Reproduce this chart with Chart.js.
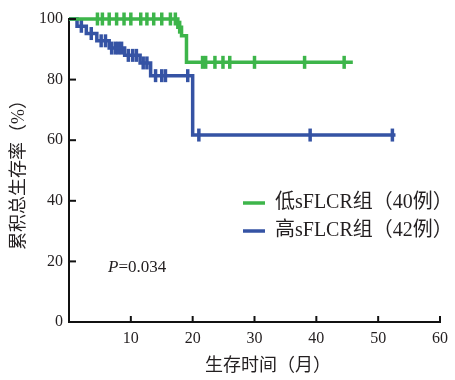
<!DOCTYPE html>
<html>
<head>
<meta charset="utf-8">
<script src="https://cdn.jsdelivr.net/npm/chart.js@4"></script>
<style>
  html, body { margin: 0; padding: 0; background: #fff; }
  #wrap { width: 455px; height: 380px; position: relative; }
</style>
</head>
<body>
<div id="wrap"><canvas id="km"></canvas></div>
<script>
// low sFLCR group (40 cases): step curve + censored marks
const lowTimes = [0, 17.6, 18.2, 19.0, 45.9];
const lowSurv = [100, 97.3, 94.5, 85.7, 85.7];
const lowCensorTimes = [4.6, 5.4, 6.5, 7.7, 8.9, 10.0, 11.6, 12.6, 13.7, 15.0, 16.4, 17.2, 17.9,
  21.6, 22.1, 23.6, 24.9, 26.0, 30.0, 38.1, 44.5];
const lowCensorSurv = [100, 100, 100, 100, 100, 100, 100, 100, 100, 100, 100, 100, 97.3,
  85.7, 85.7, 85.7, 85.7, 85.7, 85.7, 85.7, 85.7];

// high sFLCR group (42 cases)
const highTimes = [0, 1.3, 2.8, 4.5, 6.5, 9.0, 11.5, 13.2, 20.0, 52.8];
const highSurv = [100, 97.6, 95.2, 92.8, 90.4, 88.0, 85.5, 81.3, 61.7, 61.7];
const highCensorTimes = [2.0, 3.6, 5.2, 5.9, 6.9, 7.5, 8.0, 8.5, 9.6, 10.3, 10.9, 12.0, 12.6,
  14.0, 15.0, 15.6, 19.2, 21.0, 39.0, 52.3];
const highCensorSurv = [97.6, 95.2, 92.8, 92.8, 90.4, 90.4, 90.4, 90.4, 88.0, 88.0, 88.0, 85.5, 85.5,
  81.3, 81.3, 81.3, 81.3, 61.7, 61.7, 61.7];

const xTicks = [10, 20, 30, 40, 50, 60];
const yTicks = [0, 20, 40, 60, 80, 100];
const groupLabels = ['低sFLCR组（40例）', '高sFLCR组（42例）'];
const xTitle = '生存时间（月）';
const pText = '=0.034';

const GREEN = '#3db54a';
const BLUE = '#3553a4';
const TEXT = '#231f20';
const SERIF = "'Liberation Serif', 'Noto Sans CJK SC', serif";

const toPoints = (xs, ys) => xs.map((x, i) => ({ x: x, y: ys[i] }));

// inward tick marks, legend, x title and P value
const extrasPlugin = {
  id: 'extras',
  afterDraw(chart) {
    const ctx = chart.ctx;
    const xs = chart.scales.x;
    const ys = chart.scales.y;
    const area = chart.chartArea;
    ctx.save();
    ctx.strokeStyle = '#111';
    ctx.lineWidth = 2;
    xTicks.forEach(v => {
      const px = xs.getPixelForValue(v);
      ctx.beginPath();
      ctx.moveTo(px, area.bottom);
      ctx.lineTo(px, area.bottom - 6);
      ctx.stroke();
    });
    yTicks.slice(1).forEach(v => {
      const py = ys.getPixelForValue(v);
      ctx.beginPath();
      ctx.moveTo(area.left, py);
      ctx.lineTo(area.left + 7, py);
      ctx.stroke();
    });

    // legend
    const colors = [GREEN, BLUE];
    const legY = [203, 231];
    ctx.font = '20px ' + SERIF;
    ctx.textBaseline = 'middle';
    ctx.textAlign = 'left';
    groupLabels.forEach((label, i) => {
      ctx.strokeStyle = colors[i];
      ctx.lineWidth = 3.5;
      ctx.beginPath();
      ctx.moveTo(243, legY[i]);
      ctx.lineTo(265, legY[i]);
      ctx.stroke();
      ctx.fillStyle = TEXT;
      ctx.fillText(label, 275, legY[i]);
    });

    // x axis title
    ctx.font = '18px ' + SERIF;
    ctx.textAlign = 'center';
    ctx.fillText(xTitle, 268, 366);

    // P value
    ctx.textAlign = 'left';
    ctx.font = 'italic 17px ' + SERIF;
    ctx.fillText('P', 108, 268);
    const w = ctx.measureText('P').width;
    ctx.font = '17px ' + SERIF;
    ctx.fillText(pText, 108 + w, 268);
    ctx.restore();
  }
};

const ctx = document.getElementById('km').getContext('2d');
new Chart(ctx, {
  type: 'scatter',
  data: {
    datasets: [
      {
        label: groupLabels[0],
        data: toPoints(lowTimes, lowSurv),
        showLine: true,
        stepped: 'before',
        borderColor: GREEN,
        borderWidth: 3.5,
        pointRadius: 0,
        clip: 10
      },
      {
        label: groupLabels[0] + ' censored',
        data: toPoints(lowCensorTimes, lowCensorSurv),
        showLine: false,
        pointStyle: 'line',
        rotation: 90,
        pointRadius: 6.5,
        borderColor: GREEN,
        borderWidth: 3.5,
        clip: 10
      },
      {
        label: groupLabels[1],
        data: toPoints(highTimes, highSurv),
        showLine: true,
        stepped: 'before',
        borderColor: BLUE,
        borderWidth: 3.5,
        pointRadius: 0,
        clip: 10
      },
      {
        label: groupLabels[1] + ' censored',
        data: toPoints(highCensorTimes, highCensorSurv),
        showLine: false,
        pointStyle: 'line',
        rotation: 90,
        pointRadius: 6.5,
        borderColor: BLUE,
        borderWidth: 3.5,
        clip: 10
      }
    ]
  },
  options: {
    responsive: true,
    maintainAspectRatio: false,
    animation: false,
    layout: { padding: { top: 19, right: 10, bottom: 0, left: 0 } },
    plugins: {
      legend: { display: false },
      tooltip: { enabled: false }
    },
    scales: {
      x: {
        type: 'linear',
        min: 0,
        max: 60,
        afterFit: scale => { scale.height = 58; },
        afterBuildTicks: scale => { scale.ticks = xTicks.map(v => ({ value: v })); },
        ticks: {
          color: TEXT,
          font: { family: SERIF, size: 16 },
          padding: 7,
          maxRotation: 0
        },
        grid: { display: true, drawOnChartArea: false, drawTicks: false },
        border: { display: true, color: '#111', width: 2 }
      },
      y: {
        type: 'linear',
        min: 0,
        max: 100,
        afterFit: scale => { scale.width = 69; },
        afterBuildTicks: scale => { scale.ticks = yTicks.map(v => ({ value: v })); },
        ticks: {
          color: TEXT,
          font: { family: SERIF, size: 16 },
          padding: 6
        },
        grid: { display: true, drawOnChartArea: false, drawTicks: false },
        border: { display: true, color: '#111', width: 2 },
        title: {
          display: true,
          text: '累积总生存率（%）',
          color: TEXT,
          font: { family: SERIF, size: 18 },
          padding: { top: 8, bottom: 0 }
        }
      }
    }
  },
  plugins: [extrasPlugin]
});
</script>
</body>
</html>
